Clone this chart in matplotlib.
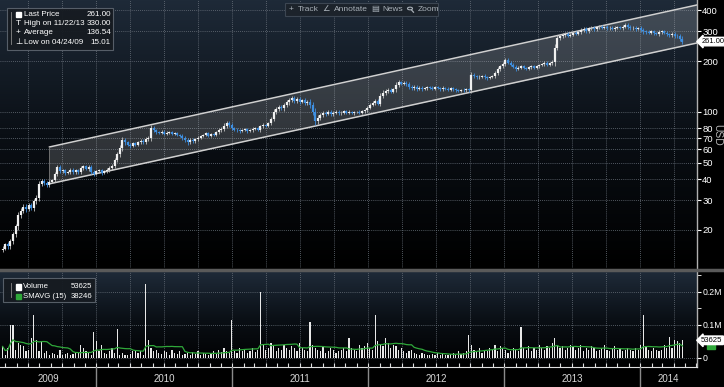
import numpy as np
import pandas as pd
import matplotlib
matplotlib.use('Agg')
import matplotlib.pyplot as plt
import matplotlib.dates as mdates
import matplotlib.transforms as mtransforms
from matplotlib.colors import LinearSegmentedColormap
from matplotlib.patches import Rectangle, Circle
from matplotlib.lines import Line2D

plt.rcParams['font.family'] = ['Liberation Sans', 'DejaVu Sans']

# weekly closes, starting week of 04/24/09
close = [
    15.5, 16.4, 16.0, 17.2, 18.8, 21.0, 24.5, 26.0, 27.5, 26.5,
    28.0, 27.0, 29.5, 31.0, 37.5, 39.0, 38.0, 37.0, 38.5, 39.5,
    43.0, 47.0, 44.5, 45.0, 43.5, 44.0, 45.5, 44.0, 45.0, 44.0,
    46.5, 47.5, 46.0, 47.0, 44.0, 43.0, 44.5, 45.0, 43.5, 44.5,
    45.5, 46.5, 48.0, 52.0, 56.0, 61.0, 68.0, 66.0, 64.0, 63.0,
    65.0, 64.0, 66.0, 67.5, 66.0, 69.0, 70.0, 80.0, 78.0, 76.0,
    75.0, 76.5, 74.0, 75.5, 76.0, 74.0, 75.0, 73.0, 72.0, 70.0,
    68.0, 66.0, 68.5, 67.0, 69.0, 70.5, 72.0, 73.0, 74.5, 72.0,
    74.0, 73.0, 76.0, 78.0, 79.5, 83.0, 86.0, 84.0, 80.0, 78.5,
    78.0, 77.0, 78.5, 79.0, 77.0, 78.0, 79.5, 80.0, 78.5, 82.0,
    84.0, 83.0, 86.0, 91.0, 100.0, 104.0, 107.0, 105.0, 110.0, 114.0,
    118.0, 121.0, 116.0, 119.0, 115.0, 117.5, 113.0, 115.0, 110.0, 100.0,
    88.0, 92.0, 96.0, 99.0, 97.5, 100.0, 97.0, 99.0, 100.5, 98.0,
    99.0, 101.0, 99.0, 100.0, 98.0, 99.5, 100.0, 99.0, 101.0, 102.0,
    106.0, 110.0, 113.0, 116.0, 112.0, 125.0, 130.0, 133.0, 135.0, 132.0,
    136.0, 145.0, 150.0, 147.0, 149.0, 146.0, 141.0, 138.0, 141.0, 137.0,
    139.0, 136.0, 138.0, 140.0, 139.0, 137.0, 140.0, 138.0, 136.0, 139.0,
    137.0, 135.0, 138.0, 136.0, 134.0, 133.0, 135.0, 134.0, 136.0, 135.0,
    165.0, 163.0, 160.0, 162.0, 164.0, 160.0, 158.0, 161.0, 163.0, 170.0,
    180.0, 186.0, 192.0, 203.0, 196.0, 190.0, 185.0, 180.0, 183.0, 186.0,
    182.0, 180.0, 184.0, 187.0, 183.0, 186.0, 189.0, 192.0, 195.0, 190.0,
    194.0, 198.0, 240.0, 275.0, 280.0, 285.0, 290.0, 283.0, 287.0, 295.0,
    290.0, 298.0, 305.0, 310.0, 300.0, 312.0, 315.0, 308.0, 318.0, 320.0,
    316.0, 318.0, 312.0, 316.0, 310.0, 314.0, 318.0, 315.0, 320.0, 326.0,
    318.0, 312.0, 316.0, 310.0, 313.0, 306.0, 300.0, 298.0, 295.0, 300.0,
    293.0, 290.0, 297.0, 300.0, 295.0, 288.0, 285.0, 290.0, 282.0, 280.0, 272.0, 261.0,
]
first_open = 15.2

# weekly high-low range beyond the body, percent
wick_pct = [
    6, 5, 7, 6, 8, 7, 9, 8, 6, 7,
    5, 6, 7, 8, 9, 6, 5, 6, 5, 4,
    6, 7, 5, 4, 5, 4, 5, 4, 5, 4,
    5, 4, 4, 5, 6, 5, 4, 4, 5, 4,
    4, 5, 5, 6, 7, 8, 8, 6, 5, 5,
    4, 5, 4, 4, 5, 5, 6, 8, 5, 4,
    4, 3, 4, 4, 3, 4, 3, 4, 4, 5,
    5, 6, 5, 4, 4, 4, 3, 4, 4, 3,
    4, 3, 4, 5, 5, 6, 6, 5, 5, 4,
    4, 4, 3, 4, 4, 3, 4, 3, 4, 5,
    4, 3, 4, 6, 7, 6, 5, 5, 6, 5,
    6, 5, 6, 5, 5, 4, 5, 5, 7, 9,
    10, 7, 6, 5, 5, 4, 5, 4, 4, 4,
    4, 3, 4, 4, 3, 4, 3, 4, 3, 4,
    5, 5, 4, 5, 5, 7, 6, 5, 5, 4,
    5, 6, 5, 4, 4, 5, 5, 4, 4, 5,
    4, 4, 3, 4, 3, 4, 4, 3, 4, 4,
    3, 4, 3, 4, 3, 4, 3, 4, 3, 5,
    8, 5, 4, 4, 3, 4, 4, 3, 4, 5,
    6, 5, 5, 6, 5, 4, 4, 5, 4, 4,
    4, 3, 4, 4, 3, 4, 4, 3, 4, 4,
    4, 5, 10, 7, 5, 5, 4, 5, 4, 4,
    4, 4, 5, 4, 5, 4, 4, 5, 4, 4,
    4, 4, 5, 4, 4, 5, 4, 4, 5, 5,
    5, 5, 4, 5, 4, 5, 6, 5, 4, 5,
    5, 4, 5, 5, 4, 5, 5, 6, 5, 5, 6, 7,
]

# weekly volume, thousands
volume_k = [
    35, 10, 30, 100, 100, 25, 45, 40, 35, 20,
    25, 60, 130, 55, 20, 50, 15, 20, 10, 15,
    12, 10, 25, 8, 12, 15, 10, 12, 15, 18,
    40, 30, 20, 15, 10, 80, 50, 20, 40, 15,
    12, 20, 30, 15, 87, 10, 15, 8, 10, 12,
    20, 25, 15, 22, 10, 225, 55, 30, 20, 25,
    15, 12, 20, 18, 10, 25, 15, 12, 20, 10,
    12, 15, 10, 18, 12, 20, 10, 15, 12, 10,
    15, 20, 12, 25, 18, 30, 20, 15, 115, 20,
    15, 30, 20, 25, 15, 20, 30, 18, 25, 200,
    40, 25, 30, 45, 35, 20, 30, 25, 40, 30,
    25, 35, 30, 20, 45, 30, 25, 20, 110, 40,
    30, 25, 20, 35, 15, 20, 30, 25, 15, 20,
    25, 30, 20, 60, 30, 25, 20, 40, 30, 35,
    45, 30, 25, 130, 50, 40, 35, 60, 45, 30,
    40, 35, 25, 30, 20, 15, 20, 25, 15, 12,
    10, 15, 12, 10, 8, 12, 10, 15, 10, 12,
    8, 10, 12, 15, 10, 20, 12, 15, 20, 70,
    40, 25, 20, 30, 15, 25, 20, 30, 25, 40,
    20, 35, 30, 25, 15, 20, 30, 25, 20, 95,
    30, 25, 35, 20, 30, 25, 40, 30, 25, 35,
    30, 45, 60, 40, 30, 35, 25, 30, 40, 35,
    25, 30, 40, 20, 30, 25, 35, 30, 20, 25,
    30, 40, 25, 20, 30, 35, 25, 30, 20, 25,
    30, 25, 20, 30, 25, 40, 130, 35, 25, 20,
    30, 25, 20, 25, 40, 30, 65, 30, 55, 50, 45, 53.625,
]

# regression channel end points
chan_dates = ['2009-08-28', '2014-06-03']
chan_upper = [62.0, 430.0]
chan_lower = [37.5, 256.0]

price_ticks = [20, 30, 40, 50, 60, 70, 80, 100, 200, 300, 400]
years = [2009, 2010, 2011, 2012, 2013, 2014]

dates = pd.date_range('2009-04-24', periods=len(close), freq='W-FRI')
xd = mdates.date2num(dates)
close = np.array(close)
opens = np.concatenate([[first_open], close[:-1]])
wk = np.array(wick_pct) / 200.0
hi = np.maximum(opens, close) * (1 + wk)
lo = np.minimum(opens, close) * (1 - wk)
vol = np.array(volume_k) * 1000
smavg = pd.Series(vol).rolling(15, min_periods=1).mean().values

x0 = mdates.date2num(pd.Timestamp('2009-04-17'))
x1 = mdates.date2num(pd.Timestamp('2014-06-03'))

W, H = 724, 387
def fx(px):
    return px / W
def fy(py):
    return 1 - py / H

fig = plt.figure(figsize=(7.24, 3.87), dpi=100, facecolor='black')
ax = fig.add_axes([0, fy(268), fx(697), 268 / H])
axv = fig.add_axes([0, fy(367), fx(697), 95 / H])

grad = LinearSegmentedColormap.from_list('bg', ['#000000', '#0a0f15', '#1e2a38'])
for a in (ax, axv):
    a.set_facecolor('black')
    a.imshow(np.linspace(0, 1, 256).reshape(-1, 1), cmap=grad, origin='lower',
             extent=(0, 1, 0, 1), transform=a.transAxes, aspect='auto', zorder=0)

# price panel
ax.set_yscale('log')
up = close >= opens
ax.vlines(xd[up], lo[up], hi[up], color='#bfbfbf', lw=0.6, zorder=4)
ax.vlines(xd[~up], lo[~up], hi[~up], color='#3f8fe0', lw=0.6, zorder=4)
ax.vlines(xd[up], opens[up], close[up], color='#f0f0f0', lw=1.6, zorder=5)
ax.vlines(xd[~up], opens[~up], close[~up], color='#3f8fe0', lw=1.6, zorder=5)

cx = mdates.date2num(pd.to_datetime(chan_dates))
ax.fill_between(cx, chan_lower, chan_upper, color='white', alpha=0.16, lw=0, zorder=2)
ax.plot(cx, chan_upper, color='#d0d0d0', lw=1.1, zorder=3)
ax.plot(cx, chan_lower, color='#d0d0d0', lw=1.1, zorder=3)
ax.plot([cx[0], cx[0]], [chan_lower[0], chan_upper[0]], color='#808080', lw=0.6, zorder=3)

ax.set_ylim(11.9, 460)
ax.set_xlim(x0, x1)
ax.yaxis.tick_right()
ax.set_yticks(price_ticks)
ax.set_yticklabels([str(t) for t in price_ticks])
ax.yaxis.set_minor_locator(matplotlib.ticker.NullLocator())
ax.tick_params(axis='y', colors='white', labelsize=6.8, length=3, pad=0.8)
ax.tick_params(axis='x', bottom=False, labelbottom=False)

quarters = mdates.date2num(pd.date_range('2009-04-01', '2014-06-01', freq='QS'))
for a in (ax, axv):
    for q in quarters:
        a.axvline(q, color='#6a727c', lw=0.6, ls=(0, (1, 1.5)), zorder=1)
for t in price_ticks:
    ax.axhline(t, color='#6a727c', lw=0.6, ls=(0, (1, 1.5)), zorder=1)

for a in (ax, axv):
    for s in ('top', 'left', 'bottom'):
        a.spines[s].set_visible(False)
    a.spines['right'].set_color('#b0b0b0')
    a.spines['right'].set_linewidth(1.0)

trans = mtransforms.blended_transform_factory(ax.transAxes, ax.transData)
ax.text(1.006, 261, '261.00', transform=trans, fontsize=5.4, color='black',
        va='center', ha='left', zorder=10, clip_on=False,
        bbox=dict(boxstyle='larrow,pad=0.1', fc='white', ec='white'))

# volume panel
axv.bar(xd, vol, width=3.2, color='#e8e8e8', zorder=4)
axv.plot(xd, smavg, color='#2fa83a', lw=0.9, zorder=5)
axv.set_xlim(x0, x1)
axv.set_ylim(-27300, 260600)
axv.yaxis.tick_right()
axv.set_yticks([0, 100000, 200000])
axv.set_yticklabels(['0', '0.1M', '0.2M'])
axv.set_yticks([50000, 150000, 250000], minor=True)
axv.tick_params(axis='y', which='both', colors='white', labelsize=6.3, length=3, pad=0.8)
for t in (0, 100000, 200000):
    axv.axhline(t, color='#6a727c', lw=0.6, ls=(0, (1, 1.5)), zorder=1)
axv.spines['bottom'].set_visible(True)
axv.spines['bottom'].set_color('#e0e0e0')
axv.xaxis.set_major_locator(mdates.MonthLocator())
axv.tick_params(axis='x', direction='in', colors='#e0e0e0', length=3, labelbottom=False)

transv = mtransforms.blended_transform_factory(axv.transAxes, axv.transData)
axv.plot([1.02], [38246], transform=transv, marker='s', ms=5.5, color='#2fa83a',
         clip_on=False, zorder=9)
axv.text(1.006, 53625, '53625', transform=transv, fontsize=5.6, color='black',
         va='center', ha='left', zorder=10, clip_on=False,
         bbox=dict(boxstyle='larrow,pad=0.1', fc='white', ec='white'))

# year strip
axl = fig.add_axes([0, 0, fx(697), 20 / H])
axl.set_facecolor('black')
axl.set_xlim(x0, x1)
axl.set_ylim(0, 1)
axl.axis('off')
bounds = [x0] + [mdates.date2num(pd.Timestamp(f'{y}-01-01')) for y in years[1:]] + [x1]
for b in bounds[1:-1]:
    axl.axvline(b, color='#8a8a8a', lw=1.0)
for i, y in enumerate(years):
    axl.text((bounds[i] + bounds[i + 1]) / 2, 0.4, str(y), color='#d8d8d8',
             fontsize=7, ha='center', va='center')

# panel separator
fig.add_artist(Line2D([0, 1], [fy(270), fy(270)], color='#5a5a5a', lw=2.5))

fig.text(fx(717), fy(135), 'USD', rotation=270, color='#b8b8b8', fontsize=7.5,
         ha='center', va='center')

# price legend
fig.add_artist(Rectangle((fx(7), fy(50)), fx(106), 42 / H, transform=fig.transFigure,
                         fc='#161b21', ec='#5a626c', lw=0.8, alpha=0.95, zorder=20))
leg_rows = [('Last Price', '261.00'), ('High on 11/22/13', '330.00'),
            ('Average', '136.54'), ('Low on 04/24/09', '15.01')]
leg_icons = ['', 'T', '+', '⊥']
for k, (lab, val) in enumerate(leg_rows):
    yy = fy(14 + 9.4 * k)
    fig.text(fx(24), yy, lab, color='white', fontsize=5.8, va='center', zorder=21)
    fig.text(fx(111), yy, val, color='white', fontsize=5.8, va='center', ha='right', zorder=21)
    if leg_icons[k]:
        fig.text(fx(18.5), yy, leg_icons[k], color='white', fontsize=6, va='center',
                 ha='center', zorder=21)
fig.add_artist(Rectangle((fx(15.5), fy(17)), fx(5.5), 5.5 / H, transform=fig.transFigure,
                         fc='white', ec='white', zorder=21))
fig.add_artist(Line2D([fx(11), fx(11)], [fy(12), fy(44)], color='#888888', lw=0.6, zorder=21))

# volume legend
fig.add_artist(Rectangle((fx(3), fy(302)), fx(92), 24 / H, transform=fig.transFigure,
                         fc='#161b21', ec='#5a626c', lw=0.8, alpha=0.95, zorder=20))
vrows = [('Volume', '53625', 'white'), ('SMAVG (15)', '38246', '#2fa83a')]
for k, (lab, val, c) in enumerate(vrows):
    yy = fy(287 + 9.5 * k)
    fig.text(fx(23), yy, lab, color='white', fontsize=5.6, va='center', zorder=21)
    fig.text(fx(92), yy, val, color='white', fontsize=5.6, va='center', ha='right', zorder=21)
    fig.add_artist(Rectangle((fx(15.5), yy - 2.75 / H), fx(5.5), 5.5 / H,
                             transform=fig.transFigure, fc=c, ec=c, zorder=21))
fig.add_artist(Line2D([fx(11), fx(11)], [fy(283), fy(297)], color='#888888', lw=0.6, zorder=21))

# toolbar
fig.add_artist(Rectangle((fx(285), fy(16)), fx(153), 13 / H, transform=fig.transFigure,
                         fc='#1c232b', ec='#3c4652', lw=0.8, zorder=20))
tb = '#a8b0b8'
for ix, s in [(291, '+'), (326, '∠'), (375, '▤')]:
    fig.text(fx(ix), fy(9.5), s, color=tb, fontsize=6, va='center', ha='center', zorder=21)
fig.text(fx(298), fy(9.5), 'Track', color=tb, fontsize=6, va='center', zorder=21)
fig.text(fx(334), fy(9.5), 'Annotate', color=tb, fontsize=6, va='center', zorder=21)
fig.text(fx(382), fy(9.5), 'News', color=tb, fontsize=6, va='center', zorder=21)
fig.text(fx(418), fy(9.5), 'Zoom', color=tb, fontsize=6, va='center', zorder=21)
# magnifier symbol drawn as a shape
fig.add_artist(Circle((fx(410), fy(8.5)), 2.5 / W, transform=fig.transFigure,
                      fill=False, ec=tb, lw=0.8, zorder=21))
fig.add_artist(Line2D([fx(411.8), fx(413.5)], [fy(10.3), fy(12.2)], color=tb, lw=0.9, zorder=21))

fig.savefig('out.png', dpi=100, facecolor='black')
